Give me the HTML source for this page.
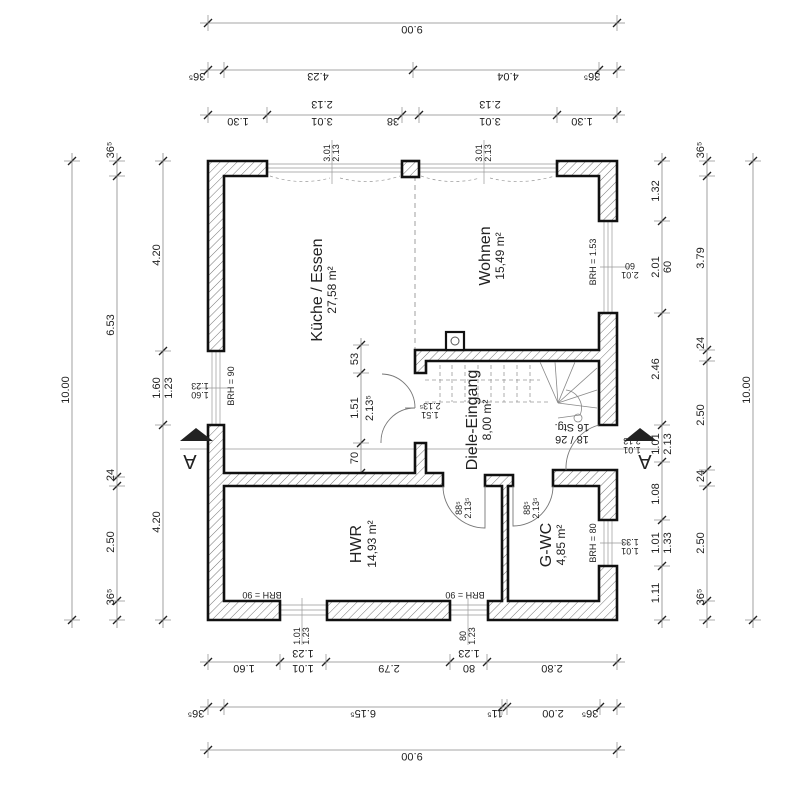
<!DOCTYPE html>
<html><head><meta charset="utf-8"><style>
html,body{margin:0;padding:0;background:#fff;}
svg{display:block;}
text{font-family:"Liberation Sans",sans-serif;fill:#222;}
.d{font-size:11px;}
.r{font-size:16px;}
.a{font-size:12px;}
.s{font-size:9px;}
</style></head><body>
<svg width="800" height="796" viewBox="0 0 800 796" xmlns="http://www.w3.org/2000/svg">
<defs>
<pattern id="h" width="6" height="6" patternUnits="userSpaceOnUse" patternTransform="rotate(45)">
<rect width="6" height="6" fill="#fff"/><line x1="0" y1="0" x2="0" y2="6" stroke="#666" stroke-width="0.9"/>
</pattern>
<g id="tk"><line x1="-4" y1="4" x2="4" y2="-4" stroke="#222" stroke-width="1.3"/><line x1="0" y1="-8" x2="0" y2="8" stroke="#888" stroke-width="0.7"/></g>
<g id="tv"><line x1="-4" y1="4" x2="4" y2="-4" stroke="#222" stroke-width="1.3"/><line x1="-8" y1="0" x2="8" y2="0" stroke="#888" stroke-width="0.7"/></g>
</defs>

<g stroke="#888" stroke-width="0.8" fill="none">
<line x1="200" y1="23" x2="625" y2="23"/>
<line x1="200" y1="70" x2="625" y2="70"/>
<line x1="200" y1="115" x2="625" y2="115"/>
<line x1="200" y1="662" x2="625" y2="662"/>
<line x1="200" y1="707" x2="625" y2="707"/>
<line x1="200" y1="750" x2="625" y2="750"/>
<line x1="72" y1="153" x2="72" y2="628"/>
<line x1="117" y1="153" x2="117" y2="628"/>
<line x1="163" y1="153" x2="163" y2="628"/>
<line x1="662" y1="153" x2="662" y2="628"/>
<line x1="707" y1="153" x2="707" y2="628"/>
<line x1="753" y1="153" x2="753" y2="628"/>
<line x1="361" y1="338" x2="361" y2="480"/>
<line x1="180" y1="449" x2="660" y2="449" stroke="#999"/>
<line x1="415" y1="176" x2="415" y2="350" stroke-dasharray="5,4"/>
</g>
<g>
<use href="#tk" x="208" y="23"/><use href="#tk" x="617" y="23"/>
<use href="#tk" x="208" y="70"/><use href="#tk" x="224" y="70"/><use href="#tk" x="413" y="70"/><use href="#tk" x="599" y="70"/><use href="#tk" x="617" y="70"/>
<use href="#tk" x="208" y="115"/><use href="#tk" x="267" y="115"/><use href="#tk" x="402" y="115"/><use href="#tk" x="419" y="115"/><use href="#tk" x="557" y="115"/><use href="#tk" x="617" y="115"/>
<use href="#tk" x="208" y="662"/><use href="#tk" x="280" y="662"/><use href="#tk" x="326" y="662"/><use href="#tk" x="450" y="662"/><use href="#tk" x="487" y="662"/><use href="#tk" x="617" y="662"/>
<use href="#tk" x="208" y="707"/><use href="#tk" x="224" y="707"/><use href="#tk" x="502" y="707"/><use href="#tk" x="507" y="707"/><use href="#tk" x="600" y="707"/><use href="#tk" x="617" y="707"/>
<use href="#tk" x="208" y="750"/><use href="#tk" x="617" y="750"/>
</g>
<g>
<use href="#tv" x="72" y="161"/><use href="#tv" x="72" y="620"/>
<use href="#tv" x="117" y="161"/><use href="#tv" x="117" y="176"/><use href="#tv" x="117" y="477"/><use href="#tv" x="117" y="486"/><use href="#tv" x="117" y="601"/><use href="#tv" x="117" y="620"/>
<use href="#tv" x="163" y="161"/><use href="#tv" x="163" y="351"/><use href="#tv" x="163" y="425"/><use href="#tv" x="163" y="620"/>
<use href="#tv" x="662" y="161"/><use href="#tv" x="662" y="221"/><use href="#tv" x="662" y="313"/><use href="#tv" x="662" y="425"/><use href="#tv" x="662" y="462"/><use href="#tv" x="662" y="520"/><use href="#tv" x="662" y="566"/><use href="#tv" x="662" y="620"/>
<use href="#tv" x="707" y="161"/><use href="#tv" x="707" y="176"/><use href="#tv" x="707" y="350"/><use href="#tv" x="707" y="361"/><use href="#tv" x="707" y="470"/><use href="#tv" x="707" y="486"/><use href="#tv" x="707" y="601"/><use href="#tv" x="707" y="620"/>
<use href="#tv" x="753" y="161"/><use href="#tv" x="753" y="620"/>
<use href="#tv" x="361" y="345"/><use href="#tv" x="361" y="373"/><use href="#tv" x="361" y="443"/><use href="#tv" x="361" y="473"/>
</g>

<g stroke="#999" stroke-width="0.7" fill="none">
<line x1="267" y1="164" x2="402" y2="164"/><line x1="267" y1="168" x2="402" y2="168"/><line x1="267" y1="172" x2="402" y2="172"/>
<line x1="419" y1="164" x2="557" y2="164"/><line x1="419" y1="168" x2="557" y2="168"/><line x1="419" y1="172" x2="557" y2="172"/>
<path d="M270,176 Q300,186 330,178 M340,178 Q370,186 400,176 M421,176 Q450,186 480,178 M490,178 Q520,186 555,176" stroke-dasharray="3,3"/>
<line x1="212" y1="351" x2="212" y2="425"/><line x1="216" y1="351" x2="216" y2="425"/><line x1="220" y1="351" x2="220" y2="425"/>
<line x1="604" y1="221" x2="604" y2="313"/><line x1="608" y1="221" x2="608" y2="313"/><line x1="612" y1="221" x2="612" y2="313"/>
<line x1="604" y1="520" x2="604" y2="566"/><line x1="608" y1="520" x2="608" y2="566"/><line x1="612" y1="520" x2="612" y2="566"/>
<line x1="280" y1="605" x2="327" y2="605"/><line x1="280" y1="610" x2="327" y2="610"/><line x1="280" y1="615" x2="327" y2="615"/>
<line x1="450" y1="605" x2="488" y2="605"/><line x1="450" y1="610" x2="488" y2="610"/><line x1="450" y1="615" x2="488" y2="615"/>
<line x1="332" y1="140" x2="332" y2="184"/><line x1="484" y1="140" x2="484" y2="184"/>
<line x1="195" y1="388" x2="228" y2="388"/><line x1="600" y1="267" x2="630" y2="267"/><line x1="600" y1="543" x2="630" y2="543"/>
<line x1="302" y1="598" x2="302" y2="645"/><line x1="468" y1="598" x2="468" y2="645"/>
</g>

<g fill="url(#h)" stroke="#111" stroke-width="2.6" stroke-linejoin="miter">
<polygon points="208,161 267,161 267,176 224,176 224,351 208,351"/>
<polygon points="208,425 224,425 224,473 415,473 415,443 426,443 426,473 443,473 443,486 224,486 224,601 280,601 280,620 208,620"/>
<polygon points="327,601 450,601 450,620 327,620"/>
<polygon points="488,601 502,601 502,486 485,486 485,475 513,475 513,486 508,486 508,601 599,601 599,566 617,566 617,620 488,620"/>
<polygon points="553,470 617,470 617,520 599,520 599,486 553,486"/>
<polygon points="599,313 617,313 617,425 599,425 599,361 426,361 426,373 415,373 415,350 599,350"/>
<polygon points="557,161 617,161 617,221 599,221 599,176 557,176"/>
<rect x="402" y="161" width="17" height="16"/>
</g>
<rect x="446" y="332" width="18" height="18" fill="#fff" stroke="#111" stroke-width="2.2"/>
<circle cx="455" cy="341" r="4" fill="none" stroke="#555" stroke-width="1"/>

<g stroke="#999" stroke-width="0.8" fill="none" stroke-dasharray="4,3">
<line x1="425" y1="402" x2="550" y2="402"/>
<line x1="425" y1="380" x2="540" y2="380"/>
<line x1="440" y1="365" x2="440" y2="402"/><line x1="452" y1="365" x2="452" y2="402"/><line x1="465" y1="365" x2="465" y2="402"/><line x1="478" y1="365" x2="478" y2="402"/><line x1="491" y1="365" x2="491" y2="402"/><line x1="504" y1="365" x2="504" y2="402"/><line x1="517" y1="365" x2="517" y2="402"/><line x1="530" y1="365" x2="530" y2="402"/>
</g>
<g stroke="#888" stroke-width="0.8" fill="none">
<line x1="558" y1="403" x2="540" y2="362"/><line x1="558" y1="403" x2="555" y2="362"/><line x1="558" y1="403" x2="575" y2="362"/><line x1="558" y1="403" x2="597" y2="368"/><line x1="558" y1="403" x2="597" y2="390"/><line x1="558" y1="403" x2="597" y2="408"/>
<path d="M566,390 A18,18 0 0 1 580,415 L558,418"/>
<circle cx="578" cy="418" r="4"/>
</g>

<g stroke="#777" stroke-width="0.9" fill="none">
<path d="M382,374 A34,34 0 0 1 415,408"/><path d="M415,408 A34,34 0 0 0 381,443"/>
<line x1="415" y1="408" x2="405" y2="408"/>
<path d="M443,486 A42,42 0 0 0 485,528 L485,486"/>
<path d="M553,486 A40,40 0 0 1 513,526 L513,486"/>
<path d="M599,425 A45,45 0 0 0 566,470"/>
</g>

<polygon points="180,441 213,441 196,428" fill="#222"/>
<polygon points="624,441 657,441 640,428" fill="#222"/>
<text transform="rotate(180 190 455)" x="190" y="455" text-anchor="middle" style="font-size:20px">A</text>
<text transform="rotate(180 645 455)" x="645" y="455" text-anchor="middle" style="font-size:20px">A</text>

<g class="d" text-anchor="middle">
<text transform="rotate(180 412 26)" x="412" y="26">9.00</text>
<text transform="rotate(180 318 73)" x="318" y="73">4.23</text>
<text transform="rotate(180 508 73)" x="508" y="73">4.04</text>
<text transform="rotate(180 197 73)" x="197" y="73">36⁵</text>
<text transform="rotate(180 592 73)" x="592" y="73">36⁵</text>
<text transform="rotate(180 238 118)" x="238" y="118">1.30</text>
<text transform="rotate(180 322 118)" x="322" y="118">3.01</text>
<text transform="rotate(180 322 101)" x="322" y="101">2.13</text>
<text transform="rotate(180 393 118)" x="393" y="118">38</text>
<text transform="rotate(180 490 118)" x="490" y="118">3.01</text>
<text transform="rotate(180 490 101)" x="490" y="101">2.13</text>
<text transform="rotate(180 582 118)" x="582" y="118">1.30</text>
<text transform="rotate(180 244 665)" x="244" y="665">1.60</text>
<text transform="rotate(180 303 665)" x="303" y="665">1.01</text>
<text transform="rotate(180 303 650)" x="303" y="650">1.23</text>
<text transform="rotate(180 389 665)" x="389" y="665">2.79</text>
<text transform="rotate(180 469 665)" x="469" y="665">80</text>
<text transform="rotate(180 469 650)" x="469" y="650">1.23</text>
<text transform="rotate(180 552 665)" x="552" y="665">2.80</text>
<text transform="rotate(180 196 710)" x="196" y="710">36⁵</text>
<text transform="rotate(180 363 710)" x="363" y="710">6.15⁵</text>
<text transform="rotate(180 495 710)" x="495" y="710">11⁵</text>
<text transform="rotate(180 553 710)" x="553" y="710">2.00</text>
<text transform="rotate(180 590 710)" x="590" y="710">36⁵</text>
<text transform="rotate(180 412 753)" x="412" y="753">9.00</text>
</g>

<g class="d" text-anchor="middle">
<text transform="rotate(-90 69 390)" x="69" y="390">10.00</text>
<text transform="rotate(-90 114 150)" x="114" y="150">36⁵</text>
<text transform="rotate(-90 114 325)" x="114" y="325">6.53</text>
<text transform="rotate(-90 114 475)" x="114" y="475">24</text>
<text transform="rotate(-90 114 542)" x="114" y="542">2.50</text>
<text transform="rotate(-90 114 597)" x="114" y="597">36⁵</text>
<text transform="rotate(-90 160 255)" x="160" y="255">4.20</text>
<text transform="rotate(-90 160 388)" x="160" y="388">1.60</text>
<text transform="rotate(-90 172 388)" x="172" y="388">1.23</text>
<text transform="rotate(-90 160 522)" x="160" y="522">4.20</text>
<text transform="rotate(-90 659 191)" x="659" y="191">1.32</text>
<text transform="rotate(-90 659 267)" x="659" y="267">2.01</text>
<text transform="rotate(-90 671 267)" x="671" y="267">60</text>
<text transform="rotate(-90 659 369)" x="659" y="369">2.46</text>
<text transform="rotate(-90 659 444)" x="659" y="444">1.01</text>
<text transform="rotate(-90 671 444)" x="671" y="444">2.13</text>
<text transform="rotate(-90 659 494)" x="659" y="494">1.08</text>
<text transform="rotate(-90 659 543)" x="659" y="543">1.01</text>
<text transform="rotate(-90 671 543)" x="671" y="543">1.33</text>
<text transform="rotate(-90 659 593)" x="659" y="593">1.11</text>
<text transform="rotate(-90 704 150)" x="704" y="150">36⁵</text>
<text transform="rotate(-90 704 258)" x="704" y="258">3.79</text>
<text transform="rotate(-90 704 343)" x="704" y="343">24</text>
<text transform="rotate(-90 704 415)" x="704" y="415">2.50</text>
<text transform="rotate(-90 704 476)" x="704" y="476">24</text>
<text transform="rotate(-90 704 543)" x="704" y="543">2.50</text>
<text transform="rotate(-90 704 597)" x="704" y="597">36⁵</text>
<text transform="rotate(-90 750 390)" x="750" y="390">10.00</text>
<text transform="rotate(-90 358 359)" x="358" y="359">53</text>
<text transform="rotate(-90 358 408)" x="358" y="408">1.51</text>
<text transform="rotate(-90 373 408)" x="373" y="408">2.13⁵</text>
<text transform="rotate(-90 358 458)" x="358" y="458">70</text>
</g>
<g class="s" text-anchor="middle">
<text transform="rotate(-90 330 153)" x="330" y="153">3.01</text>
<text transform="rotate(-90 339 153)" x="339" y="153">2.13</text>
<text transform="rotate(-90 482 153)" x="482" y="153">3.01</text>
<text transform="rotate(-90 491 153)" x="491" y="153">2.13</text>
<text transform="rotate(-90 300 636)" x="300" y="636">1.01</text>
<text transform="rotate(-90 309 636)" x="309" y="636">1.23</text>
<text transform="rotate(-90 466 636)" x="466" y="636">80</text>
<text transform="rotate(-90 475 636)" x="475" y="636">1.23</text>
<text transform="rotate(-90 234 386)" x="234" y="386">BRH = 90</text>
<text transform="rotate(-90 596 262)" x="596" y="262">BRH = 1.53</text>
<text transform="rotate(-90 596 543)" x="596" y="543">BRH = 80</text>
<text transform="rotate(-90 462 508)" x="462" y="508">88⁵</text>
<text transform="rotate(-90 471 508)" x="471" y="508">2.13⁵</text>
<text transform="rotate(-90 530 508)" x="530" y="508">88⁵</text>
<text transform="rotate(-90 539 508)" x="539" y="508">2.13⁵</text>
<text transform="rotate(180 262 592)" x="262" y="592">BRH = 90</text>
<text transform="rotate(180 465 592)" x="465" y="592">BRH = 90</text>
<text transform="rotate(180 200 383)" x="200" y="383">1.23</text>
<text transform="rotate(180 200 392)" x="200" y="392">1.60</text>
<text transform="rotate(180 430 403)" x="430" y="403">2.13⁵</text>
<text transform="rotate(180 430 412)" x="430" y="412">1.51</text>
<text transform="rotate(180 632 438)" x="632" y="438">2.13</text>
<text transform="rotate(180 632 447)" x="632" y="447">1.01</text>
<text transform="rotate(180 630 263)" x="630" y="263">60</text>
<text transform="rotate(180 630 272)" x="630" y="272">2.01</text>
<text transform="rotate(180 630 539)" x="630" y="539">1.33</text>
<text transform="rotate(180 630 548)" x="630" y="548">1.01</text>
<text style="font-size:11px" transform="rotate(180 572 424)" x="572" y="424">16 Stg.</text>
<text style="font-size:11px" transform="rotate(180 572 436)" x="572" y="436">18 / 26</text>
</g>

<g text-anchor="middle">
<text class="r" transform="rotate(-90 322 290)" x="322" y="290">Küche / Essen</text>
<text class="a" transform="rotate(-90 336 290)" x="336" y="290">27,58 m²</text>
<text class="r" transform="rotate(-90 490 256)" x="490" y="256">Wohnen</text>
<text class="a" transform="rotate(-90 504 256)" x="504" y="256">15,49 m²</text>
<text class="r" transform="rotate(-90 477 420)" x="477" y="420">Diele-Eingang</text>
<text class="a" transform="rotate(-90 491 420)" x="491" y="420">8,00 m²</text>
<text class="r" transform="rotate(-90 361 544)" x="361" y="544">HWR</text>
<text class="a" transform="rotate(-90 376 544)" x="376" y="544">14,93 m²</text>
<text class="r" transform="rotate(-90 551 545)" x="551" y="545">G-WC</text>
<text class="a" transform="rotate(-90 565 545)" x="565" y="545">4,85 m²</text>
</g>
</svg>
</body></html>
